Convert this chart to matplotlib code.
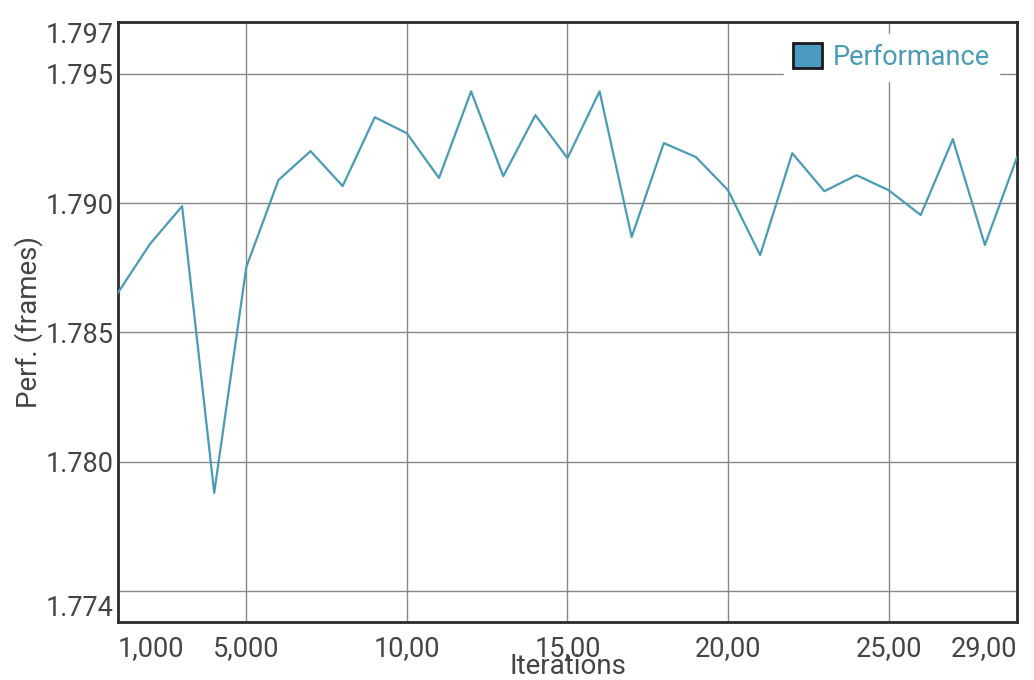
import matplotlib.pyplot as plt
from matplotlib.patches import Patch

plt.rcParams['font.family'] = ['Roboto', 'DejaVu Sans']

# Данні
iterations = list(range(1000, 30000, 1000))
perf = [1.78653, 1.78842, 1.78988, 1.77880, 1.78753, 1.79089, 1.79201, 1.79066,
        1.79332, 1.79270, 1.79097, 1.79432, 1.79104, 1.79340, 1.79174, 1.79432,
        1.78869, 1.79232, 1.79178, 1.79050, 1.78799, 1.79193, 1.79046, 1.79108,
        1.79050, 1.78954, 1.79247, 1.78838, 1.79178]

x_ticks = [1000, 5000, 10000, 15000, 20000, 25000, 29000]
x_labels = ['1,000', '5,000', '10,00', '15,00', '20,00', '25,00', '29,00']
x_grid = [5000, 10000, 15000, 20000, 25000]
y_ticks = [1.7738, 1.780, 1.785, 1.790, 1.795, 1.797]
y_labels = ['1.774', '1.780', '1.785', '1.790', '1.795', '1.797']
y_grid = [1.775, 1.780, 1.785, 1.790, 1.795]

line_color = '#4a9bb6'
text_color = '#444444'

fig = plt.figure(figsize=(10.34, 6.8), dpi=100)
ax = fig.add_axes([0.114, 0.085, 0.8696, 0.8826])

ax.plot(iterations, perf, color=line_color, linewidth=1.6, zorder=3)

ax.set_xlim(1000, 29000)
ax.set_ylim(1.7738, 1.797)

# сітка
for gx in x_grid:
    ax.axvline(gx, color='#888888', linewidth=1.0, zorder=1)
for gy in y_grid:
    ax.axhline(gy, color='#888888', linewidth=1.0, zorder=1)

ax.set_xticks(x_ticks)
ax.set_xticklabels(x_labels)
ax.set_yticks(y_ticks)
ax.set_yticklabels(y_labels)
ax.tick_params(which='both', length=0, labelsize=19.5, labelcolor=text_color)
ax.tick_params(axis='x', pad=9)
ax.tick_params(axis='y', pad=3)

xl = ax.get_xticklabels()
xl[0].set_horizontalalignment('left')
xl[-1].set_horizontalalignment('right')
yl = ax.get_yticklabels()
yl[0].set_verticalalignment('bottom')
yl[-1].set_verticalalignment('top')

for s in ax.spines.values():
    s.set_color('#2b2b2b')
    s.set_linewidth(2)

ax.set_xlabel('Iterations', fontsize=20, color=text_color, labelpad=-6)
ax.set_ylabel('Perf. (frames)', fontsize=20, color=text_color, labelpad=2)

handle = Patch(facecolor='#4a9bbf', edgecolor='#1a1a1a', linewidth=2)
leg = ax.legend([handle], ['Performance'], loc='upper right', fontsize=19.5,
                handlelength=1.05, handleheight=1.05, handletextpad=0.4,
                frameon=True, fancybox=False, borderpad=0.35,
                bbox_to_anchor=(0.995, 1.003))
leg.get_frame().set_edgecolor('white')
leg.get_frame().set_alpha(1)
leg.set_zorder(5)
for t in leg.get_texts():
    t.set_color(line_color)

fig.savefig('out.png', dpi=100)
